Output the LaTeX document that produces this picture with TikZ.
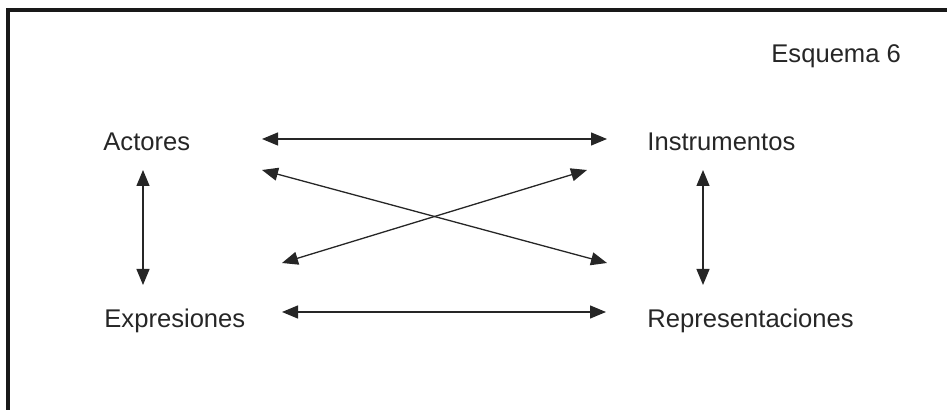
\documentclass[tikz,border=0pt]{standalone}
\usepackage{fontspec}
\setmainfont{Liberation Sans}
\usetikzlibrary{arrows.meta}
\begin{document}
\begin{tikzpicture}[x=0.5pt,y=-0.5pt]
	% sizes
	\def\lw{0.65pt}
	\def\frw{1.6pt}
	% style definition
	\tikzstyle{label} = [anchor=base west, inner sep=0pt, text=black!85, font=\fontsize{12.8}{15}\selectfont];
	\tikzstyle{link} = [{Triangle[length=8pt,width=6.5pt]}-{Triangle[length=8pt,width=6.5pt]}, line width=\lw, black!85];
	\useasboundingbox (0,0) rectangle (947,410);
	% frame (only left and top edges inside the picture)
	\draw[line width=\frw, black!90] (8,410) -- (8,10) -- (947,10);
	% labels
	\node[label] (title) at (771,63) {Esquema 6};
	\node[label] (act) at (103,151) {Actores};
	\node[label] (ins) at (647,151) {Instrumentos};
	\node[label] (exp) at (104,328) {Expresiones};
	\node[label] (rep) at (647,328) {Representaciones};
	% arrow ends
	\coordinate (act-r) at (262,139);
	\coordinate (ins-l) at (607,139);
	\coordinate (act-d) at (262,170);
	\coordinate (rep-u) at (607,263);
	\coordinate (exp-u) at (282,263);
	\coordinate (ins-d) at (587,170);
	\coordinate (exp-r) at (282,312);
	\coordinate (rep-l) at (606,312);
	\coordinate (act-s) at (143,170);
	\coordinate (exp-n) at (143,285);
	\coordinate (ins-s) at (703,170);
	\coordinate (rep-n) at (703,285);
	% arrows
	\draw[link] (act-r) -- (ins-l);
	\draw[link] (act-d) -- (rep-u);
	\draw[link] (exp-u) -- (ins-d);
	\draw[link] (exp-r) -- (rep-l);
	\draw[link] (act-s) -- (exp-n);
	\draw[link] (ins-s) -- (rep-n);
\end{tikzpicture}
\end{document}
